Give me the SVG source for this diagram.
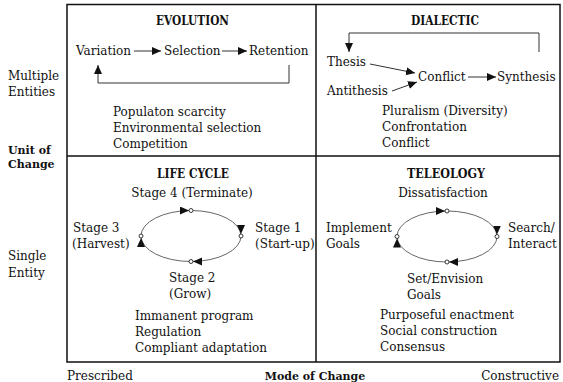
<svg xmlns="http://www.w3.org/2000/svg" width="563" height="382" viewBox="0 0 563 382">
<style>
text{font-family:"DejaVu Serif","Liberation Serif",serif;font-size:12px;fill:#111}
.b{font-weight:bold;font-size:11px}
.t{font-weight:bold;font-size:12px;text-anchor:middle}
.m{text-anchor:middle}
.e{text-anchor:end}
.frame{fill:none;stroke:#111;stroke-width:1.5}
.ln{fill:none;stroke:#333;stroke-width:1}
.arc{fill:none;stroke:#555;stroke-width:0.9}
.dot{fill:#fff;stroke:#222;stroke-width:0.9}
</style>
<defs>
<marker id="arrow" markerUnits="userSpaceOnUse" markerWidth="10" markerHeight="9" refX="9" refY="4" orient="auto" viewBox="0 0 10 9"><path d="M0,0 L9,4 L0,8 z" fill="#111"/></marker>
<marker id="arrowC" markerUnits="userSpaceOnUse" markerWidth="12" markerHeight="9" refX="11" refY="4" orient="auto" viewBox="0 0 12 9"><path d="M0,0 L9,4 L0,8 z" fill="#111"/></marker>
</defs>

<g id="frame">
<rect class="frame" x="67" y="4.5" width="493" height="357.5"/>
<line class="frame" x1="316" y1="4.5" x2="316" y2="362"/>
<line class="frame" x1="67" y1="156" x2="560" y2="156"/>
</g>

<g id="axis-labels">
<text x="8" y="80">Multiple</text>
<text x="8" y="96">Entities</text>
<text class="b" x="8" y="154">Unit of</text>
<text class="b" x="8" y="168">Change</text>
<text x="8" y="260">Single</text>
<text x="8" y="277">Entity</text>
<text x="67" y="380">Prescribed</text>
<text class="b m" x="315" y="380">Mode of Change</text>
<text class="e" x="559" y="380">Constructive</text>
</g>

<g id="evolution">
<text class="t" x="192.5" y="25" textLength="73" lengthAdjust="spacingAndGlyphs">EVOLUTION</text>
<g id="variation"><text x="76" y="55">Variation</text></g>
<g id="selection"><text x="164" y="55">Selection</text></g>
<g id="retention"><text x="249" y="55">Retention</text></g>
<text x="113" y="116">Populaton scarcity</text>
<text x="113" y="132">Environmental selection</text>
<text x="113" y="148">Competition</text>
</g>

<g id="dialectic">
<text class="t" x="445" y="25" textLength="68" lengthAdjust="spacingAndGlyphs">DIALECTIC</text>
<g id="thesis"><text x="327" y="66">Thesis</text></g>
<g id="antithesis"><text x="327" y="95">Antithesis</text></g>
<g id="conflict"><text x="418" y="81">Conflict</text></g>
<g id="synthesis"><text x="497" y="81">Synthesis</text></g>
<text x="382" y="115">Pluralism (Diversity)</text>
<text x="382" y="131">Confrontation</text>
<text x="382" y="147">Conflict</text>
</g>

<g id="life-cycle">
<text class="t" x="193" y="178" textLength="72" lengthAdjust="spacingAndGlyphs">LIFE CYCLE</text>
<g id="stage4"><text class="m" x="192" y="197">Stage 4 (Terminate)</text></g>
<g id="stage1"><text x="255" y="232">Stage 1</text><text x="255" y="248">(Start-up)</text></g>
<g id="stage3"><text x="73" y="232">Stage 3</text><text x="72" y="248">(Harvest)</text></g>
<g id="stage2"><text x="169" y="282">Stage 2</text><text x="169" y="298">(Grow)</text></g>
<text x="135" y="320">Immanent program</text>
<text x="135" y="336">Regulation</text>
<text x="135" y="352">Compliant adaptation</text>
</g>

<g id="teleology">
<text class="t" x="446" y="178" textLength="78" lengthAdjust="spacingAndGlyphs">TELEOLOGY</text>
<g id="dissatisfaction"><text class="m" x="443" y="197">Dissatisfaction</text></g>
<g id="search"><text x="508" y="232">Search/</text><text x="508" y="248">Interact</text></g>
<g id="implement"><text x="326" y="232">Implement</text><text x="326" y="248">Goals</text></g>
<g id="envision"><text x="407" y="283">Set/Envision</text><text x="407" y="299">Goals</text></g>
<text x="380" y="319">Purposeful enactment</text>
<text x="380" y="335">Social construction</text>
<text x="380" y="351">Consensus</text>
</g>

<g id="connectors">
<path class="ln" d="M134,51 L161,51" marker-end="url(#arrow)"/>
<path class="ln" d="M222,51 L247,51" marker-end="url(#arrow)"/>
<path class="ln" d="M289,65 V83 H98 V65" marker-end="url(#arrow)"/>
<path class="ln" d="M539,52 V33 H349 V52" marker-end="url(#arrow)"/>
<path class="ln" d="M370,64 L415,73" marker-end="url(#arrow)"/>
<path class="ln" d="M392,91 L417,82" marker-end="url(#arrow)"/>
<path class="ln" d="M468,77 L496,77" marker-end="url(#arrow)"/>

<path class="arc" d="M191,210.5 A50,25.5 0 0 1 241,236" marker-end="url(#arrowC)"/>
<path class="arc" d="M241,236 A50,25.5 0 0 1 191,261.5" marker-end="url(#arrowC)"/>
<path class="arc" d="M191,261.5 A50,25.5 0 0 1 141,236" marker-end="url(#arrowC)"/>
<path class="arc" d="M141,236 A50,25.5 0 0 1 191,210.5" marker-end="url(#arrowC)"/>
<circle class="dot" cx="191" cy="210.5" r="2"/>
<circle class="dot" cx="241" cy="236" r="2"/>
<circle class="dot" cx="191" cy="261.5" r="2"/>
<circle class="dot" cx="141" cy="236" r="2"/>

<path class="arc" d="M447,211 A50,25.5 0 0 1 497,236.5" marker-end="url(#arrowC)"/>
<path class="arc" d="M497,236.5 A50,25.5 0 0 1 447,262" marker-end="url(#arrowC)"/>
<path class="arc" d="M447,262 A50,25.5 0 0 1 397,236.5" marker-end="url(#arrowC)"/>
<path class="arc" d="M397,236.5 A50,25.5 0 0 1 447,211" marker-end="url(#arrowC)"/>
<circle class="dot" cx="447" cy="211" r="2"/>
<circle class="dot" cx="497" cy="236.5" r="2"/>
<circle class="dot" cx="447" cy="262" r="2"/>
<circle class="dot" cx="397" cy="236.5" r="2"/>
</g>
</svg>
